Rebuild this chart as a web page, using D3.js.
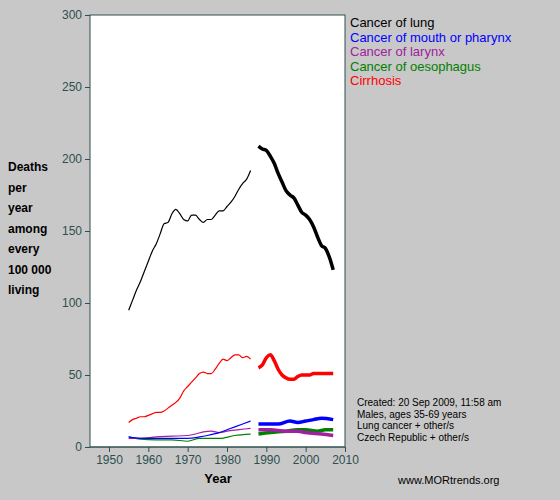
<!DOCTYPE html><html><head><script src="https://cdn.jsdelivr.net/npm/d3@7"></script>
<style>body{margin:0;background:#c8c8c8}</style></head><body><svg id="c" width="560" height="500"></svg><script>
const lungA=[[1955,95],[1956,102],[1957,109],[1958,115],[1959,122],[1960,129],[1961,136],[1962,141],[1963,148],[1964,155],[1965,156],[1966,162],[1967,165],[1968,162],[1969,158],[1970,157],[1971,161],[1972,161],[1973,158],[1974,156],[1975,158],[1976,158],[1977,161],[1978,164],[1979,164],[1980,167],[1981,170],[1982,174],[1983,179],[1984,183],[1985,186],[1986,192]];
const lungB=[[1988,209],[1989,207],[1990,206],[1991,202],[1992,197],[1993,190],[1994,184],[1995,178],[1996,175],[1997,173],[1998,168],[1999,163],[2000,161],[2001,158],[2002,153],[2003,146],[2004,140],[2005,138],[2006,132],[2007,123]];
const cirA=[[1955,17],[1956,19],[1957,20],[1958,21],[1959,21],[1960,22],[1961,23],[1962,24],[1963,24],[1964,25],[1965,27],[1966,29],[1967,31],[1968,34],[1969,39],[1970,42],[1971,45],[1972,48],[1973,51],[1974,52],[1975,51],[1976,51],[1977,54],[1978,58],[1979,61],[1980,60],[1981,62],[1982,64],[1983,64],[1984,62],[1985,63],[1986,61]];
const cirB=[[1988,55],[1989,57],[1990,62],[1991,64],[1992,60],[1993,54],[1994,50],[1995,48],[1996,47],[1997,47],[1998,49],[1999,50],[2000,50],[2001,50],[2002,51],[2003,51],[2004,51],[2005,51],[2006,51],[2007,51]];
const mouthA=[[1955,7],[1958,6],[1962,6],[1966,6],[1970,6],[1973,7],[1975,8],[1978,10],[1980,12],[1982,14],[1984,16],[1986,18]];
const mouthB=[[1988,16],[1991,16],[1993,16],[1996,18],[1998,17],[2000,18],[2002,19],[2004,20],[2007,19]];
const larA=[[1955,6],[1958,6],[1962,7],[1966,7.5],[1970,8],[1972,9],[1974,10.5],[1976,11],[1978,10],[1980,11],[1983,12],[1986,13]];
const larB=[[1988,12],[1991,12],[1995,11],[1998,11],[2000,10],[2004,9],[2007,8]];
const oesA=[[1955,7],[1958,5.5],[1962,5],[1966,5],[1970,4],[1973,6],[1975,6],[1978,6],[1982,8],[1986,9]];
const oesB=[[1988,9],[1991,10],[1995,11],[1998,12],[2000,12],[2003,11],[2005,12],[2007,12]];
const series=[["Cancer of oesophagus","green",oesA,oesB],["Cancer of larynx","#a020a0",larA,larB],["Cancer of mouth or pharynx","blue",mouthA,mouthB],["Cirrhosis","red",cirA,cirB],["Cancer of lung","black",lungA,lungB]];
const legend=["Cancer of lung","Cancer of mouth or pharynx","Cancer of larynx","Cancer of oesophagus","Cirrhosis"];
const legCol=["black","blue","#a020a0","green","red"];
const xTicks=[1950,1960,1970,1980,1990,2000,2010];
const yTicks=[0,50,100,150,200,250,300];
const svg=d3.select("#c");
const x=d3.scaleLinear([1950,2010],[109,345]);
const y=d3.scaleLinear([0,300],[447,15]);
svg.append("rect").attr("x",90).attr("y",15).attr("width",255).attr("height",432).attr("fill","white").attr("stroke","#2f4f4f");
const ax=svg.append("g").attr("transform","translate(0,447)").call(d3.axisBottom(x).tickValues(xTicks).tickFormat(d3.format("d")).tickSize(5));
const ay=svg.append("g").attr("transform","translate(90,0)").call(d3.axisLeft(y).tickValues(yTicks).tickSize(5));
[ax,ay].forEach(a=>{a.selectAll("path,line").attr("stroke","#2f4f4f");a.selectAll("text").attr("fill","#2f4f4f").style("font","12px Arial");a.select(".domain").remove();});
svg.append("line").attr("x1",90).attr("x2",345).attr("y1",447).attr("y2",447).attr("stroke","#2f4f4f");
const line=d3.line().x(d=>x(d[0])).y(d=>y(d[1])).curve(d3.curveMonotoneX);
series.forEach(([n,c,a,b])=>{
 svg.append("path").attr("d",line(a)).attr("fill","none").attr("stroke",c).attr("stroke-width",1.2);
 svg.append("path").attr("d",line(b)).attr("fill","none").attr("stroke",c).attr("stroke-width",3.5);
});
legend.forEach((t,i)=>svg.append("text").attr("x",350).attr("y",27+i*14.5).attr("fill",legCol[i]).style("font","13px Arial").text(t));
["Deaths","per","year","among","every","100 000","living"].forEach((t,i)=>svg.append("text").attr("x",8).attr("y",171+i*20.5).style("font","bold 12px Arial").text(t));
svg.append("text").attr("x",218).attr("y",483).attr("text-anchor","middle").style("font","bold 13px Arial").text("Year");
["Created: 20 Sep 2009, 11:58 am","Males, ages 35-69 years","Lung cancer + other/s","Czech Republic + other/s"].forEach((t,i)=>svg.append("text").attr("x",357).attr("y",406+i*11.5).style("font","10px Arial").text(t));
svg.append("text").attr("x",398).attr("y",484).style("font","11px Arial").text("www.MORtrends.org");
</script></body></html>
